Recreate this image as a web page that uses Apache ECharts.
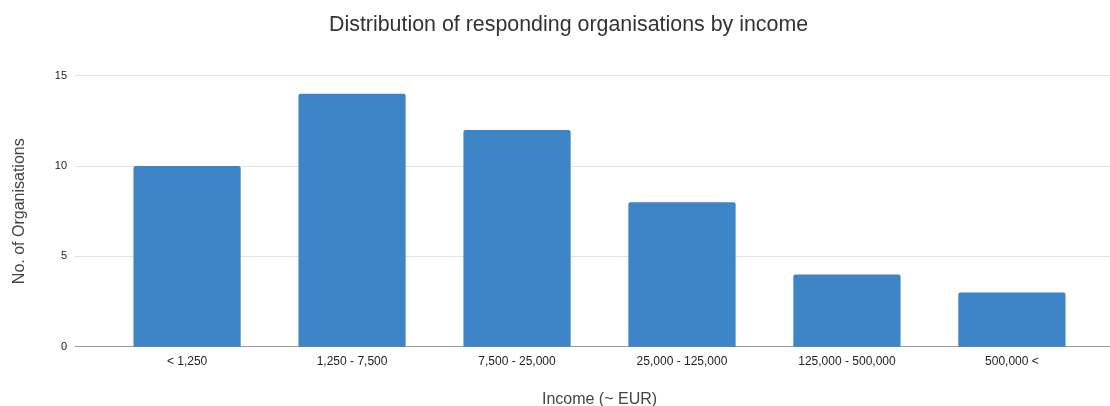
<!DOCTYPE html>
<html>
<head>
<meta charset="utf-8">
<script src="https://cdn.jsdelivr.net/npm/echarts@6/dist/echarts.min.js"></script>
<style>
  html, body { margin: 0; padding: 0; background: #fff; }
  #chart { width: 1110px; height: 406px; }
</style>
</head>
<body>
<div id="chart"></div>
<script>
// Income bands and number of responding organisations
const categories = ['< 1,250', '1,250 - 7,500', '7,500 - 25,000', '25,000 - 125,000', '125,000 - 500,000', '500,000 <'];
const counts = [10, 14, 12, 8, 4, 3];
const yTicks = [0, 5, 10, 15];

const font = 'Liberation Sans, Arial, sans-serif';
const chart = echarts.init(document.getElementById('chart'));

const option = {
    animation: false,
    title: {
        text: 'Distribution of responding organisations by income',
        left: 324,
        top: 10,
        textStyle: {
            fontFamily: font,
            fontSize: 21.4,
            fontWeight: 'normal',
            color: '#333',
        },
    },
    // grid 0 carries the gridlines and the baseline, grid 1 holds the bars
    grid: [
        { left: 75, right: 0, top: 75.7, bottom: 59.3, outerBoundsMode: 'none' },
        { left: 104.6, right: 15.6, top: 75.7, bottom: 59.3, outerBoundsMode: 'none' },
    ],
    xAxis: [
        {
            gridIndex: 0,
            type: 'value',
            min: 0,
            max: 1,
            axisLine: { show: true, lineStyle: { color: '#999', width: 1.2 } },
            axisTick: { show: false },
            axisLabel: { show: false },
            splitLine: { show: false },
        },
        {
            gridIndex: 1,
            type: 'category',
            data: categories,
            axisLine: { show: false },
            axisTick: { show: false },
            axisLabel: {
                fontFamily: font,
                fontSize: 12,
                color: '#222',
                margin: 9,
            },
            name: 'Income (~ EUR)',
            nameLocation: 'middle',
            nameGap: 45,
            nameTextStyle: {
                fontFamily: font,
                fontSize: 16,
                color: '#444',
            },
        },
    ],
    yAxis: [
        {
            gridIndex: 0,
            type: 'value',
            min: yTicks[0],
            max: yTicks[yTicks.length - 1],
            interval: 5,
            axisLine: { show: false },
            axisTick: { show: false },
            axisLabel: {
                fontFamily: font,
                fontSize: 11,
                color: '#222',
                margin: 8,
            },
            splitLine: { lineStyle: { color: '#e3e3e3', width: 1 } },
            name: 'No. of Organisations',
            nameLocation: 'middle',
            nameGap: 47,
            nameTextStyle: {
                fontFamily: font,
                fontSize: 16,
                color: '#444',
            },
        },
        {
            gridIndex: 1,
            type: 'value',
            min: yTicks[0],
            max: yTicks[yTicks.length - 1],
            show: false,
        },
    ],
    series: [
        {
            type: 'bar',
            xAxisIndex: 1,
            yAxisIndex: 1,
            data: counts,
            barWidth: '65%',
            itemStyle: {
                color: '#3d85c6',
                borderRadius: [2, 2, 0, 0],
            },
        },
    ],
};

chart.setOption(option);
</script>
</body>
</html>
